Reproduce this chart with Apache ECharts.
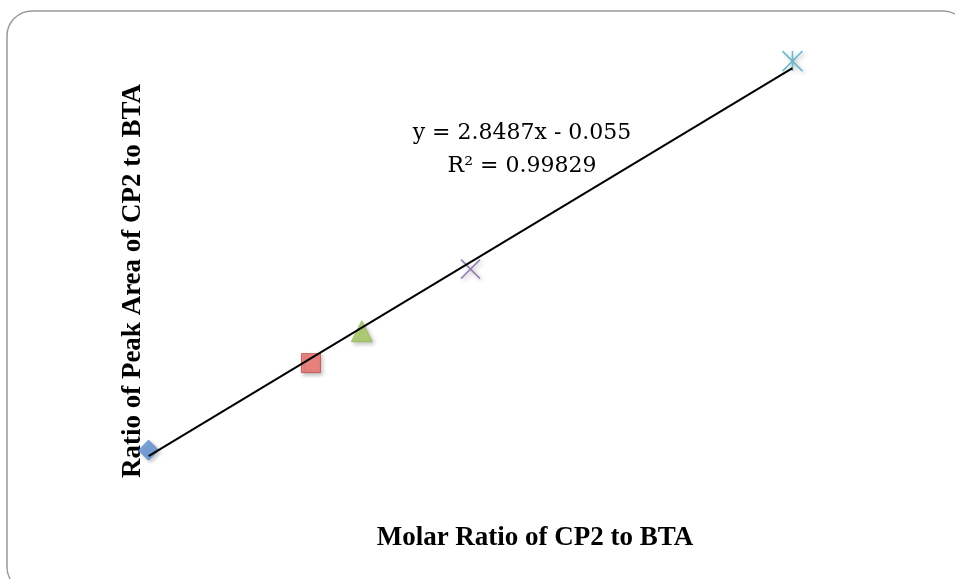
<!DOCTYPE html>
<html>
<head>
<meta charset="utf-8">
<script src="https://cdn.jsdelivr.net/npm/echarts@6/dist/echarts.min.js"></script>
<style>
  html, body { margin: 0; padding: 0; background: #fff; }
  #chart { width: 955px; height: 579px; }
</style>
</head>
<body>
<div id="chart"></div>
<script>
var pointNames = ['p1', 'p2', 'p3', 'p4', 'p5'];
var molarRatio = [0.1, 0.327, 0.398, 0.55, 1.0];
var areaRatio = [0.270, 0.845, 1.056, 1.466, 2.841];
var slope = 2.8487;
var intercept = -0.055;
var eqText = 'y = 2.8487x - 0.055';
var r2Text = 'R\u00b2 = 0.99829';
var xTitle = 'Molar Ratio of CP2 to BTA';
var yTitle = 'Ratio of Peak Area of CP2 to BTA';

var myChart = echarts.init(document.getElementById('chart'));

// excel-ish marker styles
var markers = [
    { symbol: 'diamond', size: 20, fill: '#5f93d6', border: '#4a7ebb' },
    { symbol: 'rect', size: 19, fill: '#ee6f6b', border: '#be4b48' },
    { symbol: 'triangle', size: 21, fill: '#a8cc62', border: '#98b954' },
    { symbol: 'path://M0,0L10,10M10,0L0,10', size: 19, fill: 'none', border: '#8064a2' },
    { symbol: 'path://M0,0L10,10M10,0L0,10M5,0L5,10', size: 20, fill: 'none', border: '#4bacc6' }
];

var series = [];
pointNames.forEach(function (name, i) {
    var m = markers[i];
    series.push({
        name: name,
        type: 'scatter',
        symbol: m.symbol,
        symbolSize: m.size,
        data: [[molarRatio[i], areaRatio[i]]],
        itemStyle: {
            color: m.fill,
            borderColor: m.border,
            borderWidth: m.fill === 'none' ? 1.6 : 1,
            shadowBlur: 4,
            shadowOffsetX: 2,
            shadowOffsetY: 2,
            shadowColor: 'rgba(0,0,0,0.3)'
        },
        z: 2
    });
});

// trendline across the data range
var xMin = Math.min.apply(null, molarRatio);
var xMax = Math.max.apply(null, molarRatio);
series.push({
    name: 'trend',
    type: 'line',
    showSymbol: false,
    data: [[xMin, slope * xMin + intercept], [xMax, slope * xMax + intercept]],
    lineStyle: { color: '#000', width: 2 },
    z: 5,
    silent: true
});

var option = {
    animation: false,
    grid: { left: 77, top: 37, width: 787, height: 454 },
    xAxis: {
        type: 'value', min: 0, max: 1.1,
        axisLine: { show: false }, axisTick: { show: false },
        axisLabel: { show: false }, splitLine: { show: false }
    },
    yAxis: {
        type: 'value', min: 0, max: 3,
        axisLine: { show: false }, axisTick: { show: false },
        axisLabel: { show: false }, splitLine: { show: false }
    },
    graphic: [
        {
            type: 'rect',
            shape: { x: 7, y: 11, width: 961, height: 581, r: 25 },
            style: { fill: 'none', stroke: '#999', lineWidth: 1.5 },
            silent: true
        },
        {
            type: 'text',
            x: 522, y: 133,
            style: {
                text: eqText, fill: '#000',
                font: '22px "DejaVu Serif"',
                textAlign: 'center', textVerticalAlign: 'middle'
            }
        },
        {
            type: 'text',
            x: 522, y: 166,
            style: {
                text: r2Text, fill: '#000',
                font: '22px "DejaVu Serif"',
                textAlign: 'center', textVerticalAlign: 'middle'
            }
        },
        {
            type: 'text',
            x: 535, y: 538,
            style: {
                text: xTitle, fill: '#000',
                font: 'bold 27px "Liberation Serif"',
                textAlign: 'center', textVerticalAlign: 'middle'
            }
        },
        {
            type: 'text',
            x: 133, y: 281,
            rotation: Math.PI / 2,
            style: {
                text: yTitle, fill: '#000',
                font: 'bold 27px "Liberation Serif"',
                textAlign: 'center', textVerticalAlign: 'middle'
            }
        }
    ],
    series: series
};

myChart.setOption(option);
</script>
</body>
</html>
